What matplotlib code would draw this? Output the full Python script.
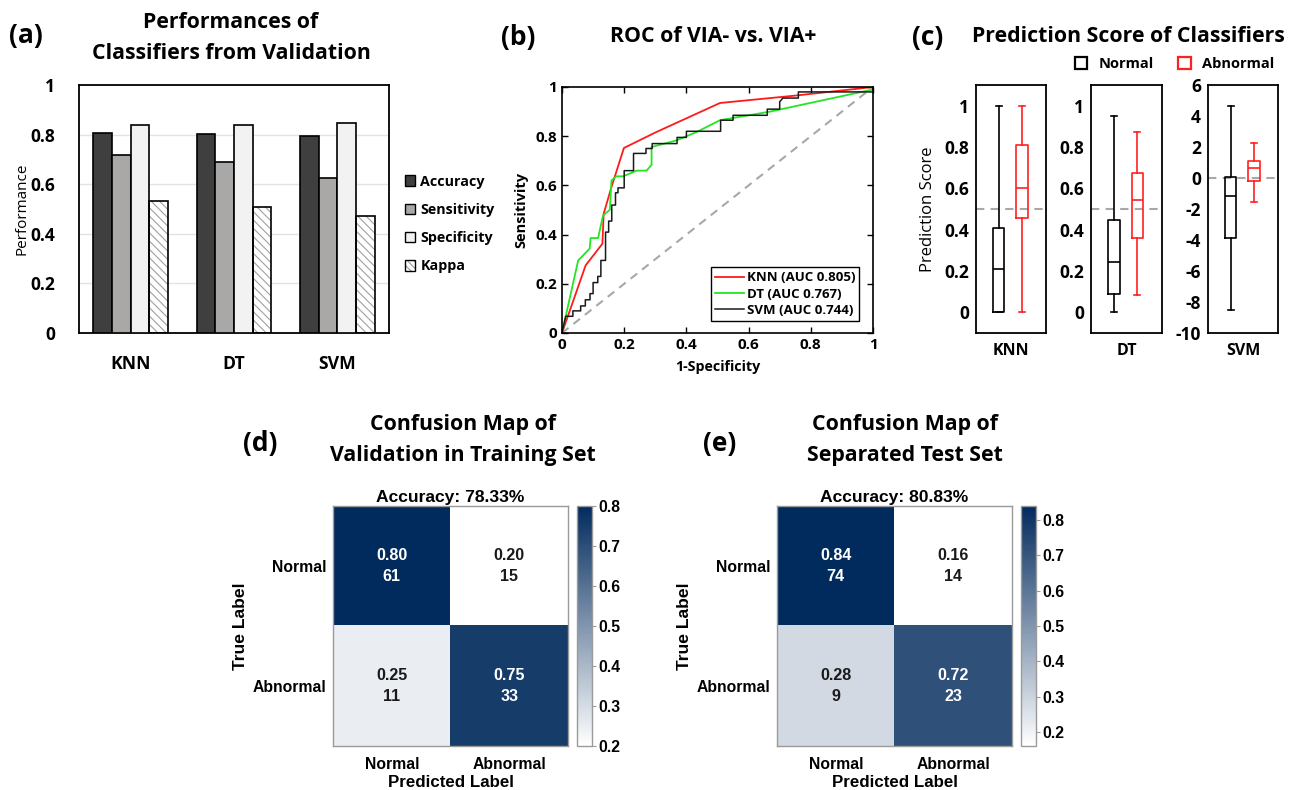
import matplotlib
matplotlib.use('Agg')
import matplotlib.pyplot as plt
import numpy as np
from matplotlib.patches import Patch
from matplotlib.colors import LinearSegmentedColormap
from matplotlib.legend_handler import HandlerTuple

# ---------------- data ----------------
classifiers = ['KNN', 'DT', 'SVM']
metrics = ['Accuracy', 'Sensitivity', 'Specificity', 'Kappa']
accuracy = [0.808, 0.801, 0.793]
sensitivity = [0.718, 0.689, 0.627]
specificity = [0.840, 0.840, 0.848]
kappa = [0.533, 0.507, 0.470]

knn_fpr = [0.0, 0.076, 0.13, 0.134, 0.159, 0.199, 0.30, 0.508, 0.75, 1.0]
knn_tpr = [0.0, 0.275, 0.363, 0.485, 0.593, 0.752, 0.815, 0.935, 0.965, 1.0]
dt_fpr = [0.0, 0.052, 0.089, 0.092, 0.116, 0.132, 0.154, 0.159, 0.175, 0.197, 0.24, 0.272,
          0.288, 0.288, 0.368, 0.433, 0.508, 0.669, 1.0]
dt_tpr = [0.0, 0.295, 0.343, 0.386, 0.386, 0.478, 0.501, 0.62, 0.637, 0.637, 0.66, 0.66,
          0.684, 0.756, 0.783, 0.817, 0.865, 0.90, 0.99]
svm_fpr = [0.0, 0.012, 0.035, 0.035, 0.06, 0.06, 0.075, 0.075, 0.09, 0.09, 0.10, 0.10, 0.115,
           0.115, 0.125, 0.125, 0.14, 0.14, 0.15, 0.15, 0.16, 0.16, 0.172, 0.172, 0.18, 0.18,
           0.20, 0.20, 0.23, 0.23, 0.27, 0.27, 0.29, 0.29, 0.37, 0.37, 0.40, 0.40, 0.51, 0.51,
           0.55, 0.55, 0.66, 0.66, 0.70, 0.70, 0.71, 0.76, 0.76, 1.0, 1.0]
svm_tpr = [0.0, 0.068, 0.068, 0.09, 0.09, 0.11, 0.11, 0.135, 0.135, 0.16, 0.16, 0.205, 0.205,
           0.23, 0.23, 0.295, 0.295, 0.41, 0.41, 0.455, 0.455, 0.52, 0.52, 0.57, 0.57, 0.59,
           0.59, 0.66, 0.66, 0.73, 0.73, 0.75, 0.75, 0.77, 0.77, 0.795, 0.795, 0.82, 0.82, 0.865,
           0.865, 0.885, 0.885, 0.91, 0.91, 0.94, 0.955, 0.955, 0.98, 0.98, 1.0]
roc_labels = ['KNN (AUC 0.805)', 'DT (AUC 0.767)', 'SVM (AUC 0.744)']

groups = ['Normal', 'Abnormal']
# box stats: [whislo, q1, med, q3, whishi]
knn_normal = [0.0, 0.0, 0.21, 0.41, 1.0]
knn_abnormal = [0.0, 0.455, 0.60, 0.81, 1.0]
dt_normal = [0.0, 0.09, 0.245, 0.445, 0.95]
dt_abnormal = [0.085, 0.36, 0.545, 0.675, 0.875]
svm_normal = [-8.5, -3.86, -1.17, 0.04, 4.64]
svm_abnormal = [-1.58, -0.22, 0.67, 1.08, 2.23]

labels_cm = ['Normal', 'Abnormal']
val_frac = [[0.80, 0.20], [0.25, 0.75]]
val_count = [[61, 15], [11, 33]]
test_frac = [[0.84, 0.16], [0.28, 0.72]]
test_count = [[74, 14], [9, 23]]

# ---------------- style ----------------
plt.rcParams['font.family'] = ['Open Sans', 'DejaVu Sans']
plt.rcParams['font.weight'] = 'bold'
plt.rcParams['axes.labelweight'] = 'bold'
plt.rcParams['hatch.linewidth'] = 0.8

W, H = 1294, 790
fig = plt.figure(figsize=(W / 100, H / 100), dpi=100)


def box(x0, y0, x1, y1):
    return [x0 / W, 1 - y1 / H, (x1 - x0) / W, (y1 - y0) / H]


def ftext(x, y, s, **kw):
    fig.text(x / W, 1 - y / H, s, **kw)


TITLE = 15.3
PANEL = 19
TL = 1.6

# ---------------- (a) ----------------
axA = fig.add_axes(box(79, 85, 389, 333))
xpos = np.arange(len(classifiers))
bw = 0.18
series = [accuracy, sensitivity, specificity, kappa]
fills = ['#3f3f3f', '#aaa7a7', '#f2f2f2', 'white']
for i, (vals, fc) in enumerate(zip(series, fills)):
    pos = xpos + (i - 1.5) * bw
    if metrics[i] == 'Kappa':
        axA.bar(pos, vals, bw, color='white', edgecolor='#a0a0a0', hatch='\\\\\\\\',
                linewidth=0, zorder=2)
        axA.bar(pos, vals, bw, fill=False, edgecolor='black', linewidth=1.2, zorder=3)
    else:
        axA.bar(pos, vals, bw, color=fc, edgecolor='black', linewidth=1.2, zorder=3)
axA.set_xlim(-0.5, 2.5)
axA.set_ylim(0, 1)
axA.set_yticks([0, 0.2, 0.4, 0.6, 0.8, 1.0])
axA.set_yticklabels(['0', '0.2', '0.4', '0.6', '0.8', '1'], fontsize=12.5)
axA.set_xticks(xpos)
axA.set_xticklabels(classifiers, fontsize=12.7)
axA.tick_params(axis='both', length=0)
axA.tick_params(axis='x', pad=16)
axA.tick_params(axis='y', pad=17)
for v in [0.2, 0.4, 0.6, 0.8]:
    axA.axhline(v, color='#e3e3e3', lw=1, zorder=1)
for s in axA.spines.values():
    s.set_linewidth(1.3)
axA.set_ylabel('Performance', fontsize=11, fontweight='normal', labelpad=1)
handlesA = [Patch(facecolor=fills[0], edgecolor='black'),
            Patch(facecolor=fills[1], edgecolor='black'),
            Patch(facecolor=fills[2], edgecolor='black'),
            (Patch(facecolor='white', edgecolor='#9a9a9a', hatch='\\\\\\\\\\', linewidth=0),
             Patch(fill=False, edgecolor='black'))]
fig.legend(handlesA, metrics, loc='center left', bbox_to_anchor=(399 / W, 1 - 224 / H),
           frameon=False, fontsize=10.3, handlelength=0.75, handleheight=0.75,
           handletextpad=0.35, labelspacing=1.0, borderaxespad=0,
           handler_map={tuple: HandlerTuple(ndivide=1)})
ftext(26, 36, '(a)', fontsize=PANEL, ha='center', va='center')
ftext(231, 38, 'Performances of\nClassifiers from Validation', fontsize=TITLE,
      ha='center', va='center', linespacing=TL)

# ---------------- (b) ----------------
axB = fig.add_axes(box(562, 87, 873, 333))
axB.plot([0, 1], [0, 1], ls='--', color='#a8a8a8', lw=1.5, dashes=(4, 3))
axB.plot(knn_fpr, knn_tpr, color='#ff1a1a', lw=1.3, label=roc_labels[0])
axB.plot(dt_fpr, dt_tpr, color='#22e622', lw=1.3, label=roc_labels[1])
axB.plot(svm_fpr, svm_tpr, color='#1a1a1a', lw=1.1, label=roc_labels[2])
axB.set_xlim(0, 1)
axB.set_ylim(0, 1)
ticks = [0, 0.2, 0.4, 0.6, 0.8, 1.0]
tl = ['0', '0.2', '0.4', '0.6', '0.8', '1']
axB.set_xticks(ticks)
axB.set_xticklabels(tl, fontsize=11)
axB.set_yticks(ticks)
axB.set_yticklabels(tl, fontsize=11)
axB.tick_params(direction='in', top=True, right=True, length=4, width=1)
for s in axB.spines.values():
    s.set_linewidth(1.2)
axB.set_xlabel('1-Specificity', fontsize=10.3, labelpad=6)
axB.set_ylabel('Sensitivity', fontsize=10.5, labelpad=5)
legB = axB.legend(loc='lower right', bbox_to_anchor=(0.955, 0.049), borderaxespad=0,
                  fontsize=9.5, fancybox=False, edgecolor='black', handlelength=2.2,
                  handletextpad=0.2, labelspacing=0.25, borderpad=0.3, framealpha=1)
legB.get_frame().set_linewidth(1.0)
ftext(518, 37, '(b)', fontsize=PANEL, ha='center', va='center')
ftext(713, 36, 'ROC of VIA- vs. VIA+', fontsize=TITLE, ha='center', va='center')

# ---------------- (c) ----------------
def box_stats(v, label):
    return dict(whislo=v[0], q1=v[1], med=v[2], q3=v[3], whishi=v[4], label=label, fliers=[])


c_boxes = [(976, 1046), (1091, 1162), (1208, 1278)]
c_data = [(knn_normal, knn_abnormal), (dt_normal, dt_abnormal), (svm_normal, svm_abnormal)]
for k, ((x0, x1), (nv, av)) in enumerate(zip(c_boxes, c_data)):
    ax = fig.add_axes(box(x0, 85, x1, 333))
    for pos, vals, col in [(1, nv, 'black'), (2, av, '#ff2020')]:
        lp = dict(color=col, linewidth=1.2)
        ax.bxp([box_stats(vals, '')], positions=[pos], widths=0.5, showfliers=False,
               boxprops=lp, whiskerprops=lp, capprops=lp,
               medianprops=dict(color=col, linewidth=1.2), manage_ticks=False)
    ax.set_xlim(0.02, 3.05)
    if classifiers[k] == 'SVM':
        ax.set_ylim(-10, 6)
        ax.set_yticks(range(-10, 7, 2))
        ax.set_yticklabels([str(t) for t in range(-10, 7, 2)], fontsize=12.5)
        ax.axhline(0, color='#a8a8a8', ls='--', lw=1.5, dashes=(4, 3), zorder=0)
    else:
        ax.set_ylim(-0.1, 1.1)
        ax.set_yticks(ticks)
        ax.set_yticklabels(tl, fontsize=12.5)
        ax.axhline(0.5, color='#a8a8a8', ls='--', lw=1.5, dashes=(4, 3), zorder=0)
    ax.set_xticks([])
    ax.tick_params(axis='y', length=0, pad=5)
    for s in ax.spines.values():
        s.set_linewidth(1.3)
    ax.set_xlabel(classifiers[k], fontsize=11.5, labelpad=7)
    if k == 0:
        ax.set_ylabel('Prediction Score', fontsize=12, fontweight='normal', labelpad=6)

handlesC = [Patch(facecolor='white', edgecolor='black', linewidth=1.6),
            Patch(facecolor='white', edgecolor='#ff2020', linewidth=1.6)]
fig.legend(handlesC, groups, loc='center left', bbox_to_anchor=(1069 / W, 1 - 64 / H),
           ncol=2, frameon=False, fontsize=10.5, handlelength=0.85, handleheight=0.85,
           handletextpad=0.75, columnspacing=1.7, borderaxespad=0)
ftext(928, 37, '(c)', fontsize=PANEL, ha='center', va='center')
ftext(1128, 36, 'Prediction Score of Classifiers', fontsize=TITLE, ha='center', va='center')

# ---------------- (d), (e) ----------------
cmap = LinearSegmentedColormap.from_list('navy', ['#ffffff', '#022b5d'])
HFONT = ['Liberation Sans', 'DejaVu Sans']


def heat(hx0, hx1, cx0, cx1, frac, counts, vmin, vmax, acc_text):
    ax = fig.add_axes(box(hx0, 506, hx1, 746))
    frac = np.array(frac)
    im = ax.imshow(frac, cmap=cmap, vmin=vmin, vmax=vmax, aspect='auto')
    for i in range(2):
        for j in range(2):
            c = 'white' if frac[i, j] > 0.5 else '#1a1a1a'
            ax.text(j, i, f'{frac[i, j]:.2f}\n{counts[i][j]}', ha='center', va='center',
                    color=c, fontsize=11.6, family=HFONT, linespacing=1.55)
    ax.set_xticks([0, 1])
    ax.set_xticklabels(labels_cm, fontsize=11.3, family=HFONT)
    ax.set_yticks([0, 1])
    ax.set_yticklabels(labels_cm, fontsize=11.3, family=HFONT)
    ax.tick_params(length=0, pad=5)
    ax.tick_params(axis='x', pad=8)
    for s in ax.spines.values():
        s.set_color('#9a9a9a')
        s.set_linewidth(1)
    ax.set_xlabel('Predicted Label', fontsize=12.2, family=HFONT, labelpad=2)
    ax.set_ylabel('True Label', fontsize=12.6, family=HFONT, labelpad=3)
    ax.set_title(acc_text, fontsize=12.6, family=HFONT, fontweight='bold', pad=3)
    cax = fig.add_axes(box(cx0, 506, cx1, 746))
    cb = fig.colorbar(im, cax=cax, ticks=[0.2, 0.3, 0.4, 0.5, 0.6, 0.7, 0.8])
    cb.outline.set_edgecolor('#9a9a9a')
    cb.outline.set_linewidth(1)
    cax.tick_params(length=3, width=0.8, color='#9a9a9a', pad=1.5)
    for t in cax.get_yticklabels():
        t.set_fontsize(11.3)
        t.set_family(HFONT)
        t.set_fontweight('bold')
    return ax


heat(333, 568, 577, 592, val_frac, val_count, 0.2, 0.8, 'Accuracy: 78.33%')
heat(777, 1012, 1021, 1036, test_frac, test_count, 0.16, 0.84, 'Accuracy: 80.83%')

ftext(260, 443, '(d)', fontsize=PANEL, ha='center', va='center')
ftext(463, 440, 'Confusion Map of\nValidation in Training Set', fontsize=TITLE,
      ha='center', va='center', linespacing=TL)
ftext(720, 443, '(e)', fontsize=PANEL, ha='center', va='center')
ftext(905, 440, 'Confusion Map of\nSeparated Test Set', fontsize=TITLE,
      ha='center', va='center', linespacing=TL)

fig.savefig('out.png', dpi=100)
